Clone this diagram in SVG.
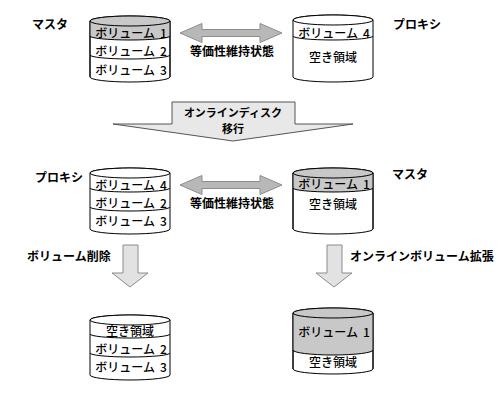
<svg xmlns="http://www.w3.org/2000/svg" width="500" height="400" viewBox="0 0 500 400">
<style>
.bg{fill:#ffffff}
.cyl{fill:#ffffff;stroke:#000;stroke-width:1}
.gray{fill:#c8c8c8;stroke:none}
.top{stroke:#000;stroke-width:1}
.line{fill:none;stroke:#000;stroke-width:1}
.t{font-family:"Noto Sans CJK JP","Liberation Sans",sans-serif;font-size:12px;font-weight:500;fill:#000;text-anchor:middle}
.lbl{font-family:"Noto Sans CJK JP","Liberation Sans",sans-serif;font-size:12px;font-weight:bold;fill:#000}
.mv{font-family:"Noto Sans CJK JP","Liberation Sans",sans-serif;font-size:11px;font-weight:bold;fill:#000;text-anchor:middle}
.dbl{fill:#b8b8b8;stroke:#8c8c8c;stroke-width:1}
.big{fill:#e8e8e8;stroke:#555;stroke-width:1}
.down{fill:#e2e2e2;stroke:#8c8c8c;stroke-width:1}
</style>
<rect class="bg" x="0" y="0" width="500" height="400"/>

<g id="connectors">
  <path class="dbl" d="M180,33 L202,23.5 L202,29.5 L260,29.5 L260,23.5 L282,33 L260,42.5 L260,36.5 L202,36.5 L202,42.5 Z"/>
  <path class="dbl" d="M180,185 L202,175.5 L202,181.5 L260,181.5 L260,175.5 L282,185 L260,194.5 L260,188.5 L202,188.5 L202,194.5 Z"/>
  <path class="big" d="M172,102 L295,102 L295,124 L353,124 L233,141 L113,124 L172,124 Z"/>
  <path class="down" d="M123,245 L138,245 L138,273 L148,273 L130,287 L112,273 L123,273 Z"/>
  <path class="down" d="M327,245 L342,245 L342,273 L352,273 L334,287 L316,273 L327,273 Z"/>
</g>

<g id="labels">
  <text class="lbl" x="32" y="29">マスタ</text>
  <text class="lbl" x="393" y="29">プロキシ</text>
  <text class="lbl" x="35" y="182">プロキシ</text>
  <text class="lbl" x="392" y="179">マスタ</text>
  <text class="lbl" x="232" y="56" text-anchor="middle">等価性維持状態</text>
  <text class="lbl" x="232" y="208" text-anchor="middle">等価性維持状態</text>
  <text class="mv" x="233" y="116.5">オンラインディスク</text>
  <text class="mv" x="233" y="132.5">移行</text>
  <text class="lbl" x="27" y="261">ボリューム削除</text>
  <text class="lbl" x="350" y="261">オンラインボリューム拡張</text>
</g>

<g id="cylA">
  <path class="cyl" d="M90,21 A40,5 0 0 1 170,21 L170,77 A40,5 0 0 1 90,77 Z"/>
  <path class="gray" d="M90,21 A40,5 0 0 1 170,21 L170,36 A40,4 0 0 1 90,36 Z"/>
  <ellipse class="top" cx="130" cy="21" rx="40" ry="5" fill="#c8c8c8"/>
  <path class="line" d="M90,21 L90,77 M170,21 L170,77"/>
  <path class="line" d="M90,36 A40,4 0 0 0 170,36"/>
  <path class="line" d="M90,55 A40,4 0 0 0 170,55"/>
  <text class="t" x="131" y="37.5">ボリューム<tspan dx="5">1</tspan></text>
  <text class="t" x="131" y="55.5">ボリューム<tspan dx="5">2</tspan></text>
  <text class="t" x="131" y="74.5">ボリューム<tspan dx="5">3</tspan></text>
</g>

<g id="cylB">
  <path class="cyl" d="M293,20 A40,5 0 0 1 373,20 L373,77 A40,5 0 0 1 293,77 Z"/>
  <ellipse class="top" cx="333" cy="20" rx="40" ry="5" fill="#ffffff"/>
  <path class="line" d="M293,36 A40,4 0 0 0 373,36"/>
  <text class="t" x="334" y="37.5">ボリューム<tspan dx="5">4</tspan></text>
  <text class="t" x="333" y="61.5">空き領域</text>
</g>

<g id="cylC">
  <path class="cyl" d="M90,173 A40,5 0 0 1 170,173 L170,229 A40,5 0 0 1 90,229 Z"/>
  <ellipse class="top" cx="130" cy="173" rx="40" ry="5" fill="#ffffff"/>
  <path class="line" d="M90,188 A40,4 0 0 0 170,188"/>
  <path class="line" d="M90,207 A40,4 0 0 0 170,207"/>
  <text class="t" x="131" y="189.5">ボリューム<tspan dx="5">4</tspan></text>
  <text class="t" x="131" y="207.5">ボリューム<tspan dx="5">2</tspan></text>
  <text class="t" x="131" y="225.5">ボリューム<tspan dx="5">3</tspan></text>
</g>

<g id="cylD">
  <path class="cyl" d="M293,173 A40,5 0 0 1 373,173 L373,229 A40,5 0 0 1 293,229 Z"/>
  <path class="gray" d="M293,173 A40,5 0 0 1 373,173 L373,188 A40,4 0 0 1 293,188 Z"/>
  <ellipse class="top" cx="333" cy="173" rx="40" ry="5" fill="#c8c8c8"/>
  <path class="line" d="M293,173 L293,229 M373,173 L373,229"/>
  <path class="line" d="M293,188 A40,4 0 0 0 373,188"/>
  <text class="t" x="334" y="189">ボリューム<tspan dx="5">1</tspan></text>
  <text class="t" x="333" y="208.5">空き領域</text>
</g>

<g id="cylE">
  <path class="cyl" d="M90,320 A40,5 0 0 1 170,320 L170,375 A40,5 0 0 1 90,375 Z"/>
  <ellipse class="top" cx="130" cy="320" rx="40" ry="5" fill="#ffffff"/>
  <path class="line" d="M90,334 A40,4 0 0 0 170,334"/>
  <path class="line" d="M90,353 A40,4 0 0 0 170,353"/>
  <text class="t" x="130" y="335.5">空き領域</text>
  <text class="t" x="131" y="353.5">ボリューム<tspan dx="5">2</tspan></text>
  <text class="t" x="131" y="371.5">ボリューム<tspan dx="5">3</tspan></text>
</g>

<g id="cylF">
  <path class="cyl" d="M293,313 A40,5 0 0 1 373,313 L373,369 A40,5 0 0 1 293,369 Z"/>
  <path class="gray" d="M293,313 A40,5 0 0 1 373,313 L373,350 A40,5 0 0 1 293,350 Z"/>
  <ellipse class="top" cx="333" cy="313" rx="40" ry="5" fill="#c8c8c8"/>
  <path class="line" d="M293,313 L293,369 M373,313 L373,369"/>
  <path class="line" d="M293,350 A40,5 0 0 0 373,350"/>
  <text class="t" x="334" y="336.5">ボリューム<tspan dx="5">1</tspan></text>
  <text class="t" x="333" y="366.5">空き領域</text>
</g>
</svg>
